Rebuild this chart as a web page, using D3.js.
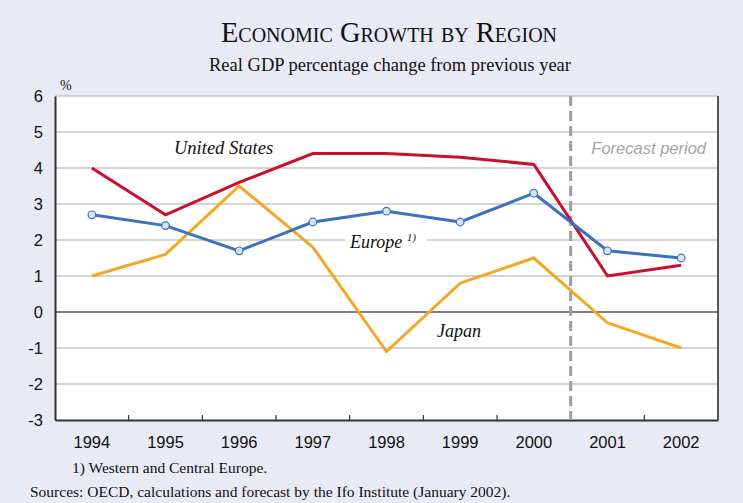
<!DOCTYPE html>
<html>
<head>
<meta charset="utf-8">
<script src="https://cdn.jsdelivr.net/npm/d3@7"></script>
<style>
  html, body { margin: 0; padding: 0; background: #e8eaf5; }
  svg { display: block; }
</style>
</head>
<body>
<div id="chart"></div>
<script>
// Données
const annees   = ["1994","1995","1996","1997","1998","1999","2000","2001","2002"];
const etatsUnis = [4.0, 2.7, 3.6, 4.4, 4.4, 4.3, 4.1, 1.0, 1.3];
const europe    = [2.7, 2.4, 1.7, 2.5, 2.8, 2.5, 3.3, 1.7, 1.5];
const japon     = [1.0, 1.6, 3.5, 1.8, -1.1, 0.8, 1.5, -0.3, -1.0];
const ticksY    = [-3, -2, -1, 0, 1, 2, 3, 4, 5, 6];
const debutPrevision = "2001";

const largeur = 743, hauteur = 503;
const marge = { haut: 96, droite: 25, bas: 83, gauche: 55 };
const serif = "'Liberation Serif', 'Times New Roman', serif";
const sans  = "'Liberation Sans', Arial, sans-serif";

const svg = d3.select("#chart").append("svg")
    .attr("width", largeur).attr("height", hauteur);

svg.append("rect").attr("width", largeur).attr("height", hauteur).attr("fill", "#e8eaf5");

// Échelles
const x = d3.scaleBand().domain(annees)
    .range([marge.gauche, largeur - marge.droite]);
const y = d3.scaleLinear().domain([-3, 6])
    .range([hauteur - marge.bas, marge.haut]);
const cx = d => x(d) + x.bandwidth() / 2;

// Titres
svg.append("text").attr("x", 389).attr("y", 42).attr("text-anchor", "middle")
    .attr("font-family", serif)
    .attr("font-size", 28.5).attr("fill", "#111")
    .style("font-variant", "small-caps")
    .text("Economic Growth by Region");
svg.append("text").attr("x", 390).attr("y", 71).attr("text-anchor", "middle")
    .attr("font-family", serif)
    .attr("font-size", 18.5).attr("fill", "#111")
    .text("Real GDP percentage change from previous year");

// Zone de tracé
svg.append("rect")
    .attr("x", marge.gauche).attr("y", marge.haut)
    .attr("width", largeur - marge.droite - marge.gauche)
    .attr("height", hauteur - marge.bas - marge.haut)
    .attr("fill", "#fff");

// Grille
svg.append("g").selectAll("line").data(ticksY.filter(t => t !== 0 && t !== -3)).join("line")
    .attr("x1", marge.gauche).attr("x2", largeur - marge.droite)
    .attr("y1", d => y(d)).attr("y2", d => y(d))
    .attr("stroke", "#c6c6c6").attr("stroke-width", 1.5);
svg.append("line")
    .attr("x1", marge.gauche).attr("x2", largeur - marge.droite)
    .attr("y1", y(0)).attr("y2", y(0))
    .attr("stroke", "#000").attr("stroke-width", 1.2);

// Axe Y
const axeY = svg.append("g").attr("transform", `translate(${marge.gauche},0)`)
    .call(d3.axisLeft(y).tickValues(ticksY).tickFormat(d => String(d))
        .tickSize(0).tickPadding(12));
axeY.select(".domain").attr("stroke", "#333").attr("stroke-width", 2);
axeY.selectAll("text").attr("font-family", sans)
    .attr("font-size", 16.5).attr("fill", "#111");

svg.append("text").attr("x", 60).attr("y", 90)
    .attr("font-family", serif)
    .attr("font-size", 14).attr("fill", "#111").text("%");

// Axe X
const axeX = svg.append("g").attr("transform", `translate(0,${y(-3)})`)
    .call(d3.axisBottom(x).tickSize(0).tickPadding(16));
axeX.select(".domain").attr("stroke", "#333").attr("stroke-width", 2);
axeX.selectAll("text").attr("font-family", sans)
    .attr("font-size", 16.5).attr("fill", "#111");
// petites graduations entre les années
svg.append("g").selectAll("line").data(annees.slice(1)).join("line")
    .attr("x1", d => x(d)).attr("x2", d => x(d))
    .attr("y1", y(-3)).attr("y2", y(-3) - 5)
    .attr("stroke", "#333").attr("stroke-width", 1.2);

// Bord droit
svg.append("line")
    .attr("x1", largeur - marge.droite).attr("x2", largeur - marge.droite)
    .attr("y1", marge.haut).attr("y2", y(-3))
    .attr("stroke", "#555").attr("stroke-width", 2);

// Période de prévision
svg.append("line")
    .attr("x1", x(debutPrevision)).attr("x2", x(debutPrevision))
    .attr("y1", marge.haut).attr("y2", y(-3))
    .attr("stroke", "#9e9e9e").attr("stroke-width", 3)
    .attr("stroke-dasharray", "10,5");
svg.append("text").attr("x", 706).attr("y", 154).attr("text-anchor", "end")
    .attr("font-family", sans)
    .attr("font-style", "italic").attr("font-size", 16.5).attr("fill", "#a5a5a5")
    .text("Forecast period");

// Séries
const ligne = d3.line().x((d, i) => cx(annees[i])).y(d => y(d));
const series = [
    { nom: "japon", valeurs: japon, couleur: "#f5a623" },
    { nom: "etatsUnis", valeurs: etatsUnis, couleur: "#c8102e" },
    { nom: "europe", valeurs: europe, couleur: "#3a72bd" }
];
series.forEach(s => {
    svg.append("path").datum(s.valeurs)
        .attr("fill", "none").attr("stroke", s.couleur)
        .attr("stroke-width", 3).attr("stroke-linejoin", "miter")
        .attr("d", ligne);
});
svg.append("g").selectAll("circle").data(europe).join("circle")
    .attr("cx", (d, i) => cx(annees[i])).attr("cy", d => y(d))
    .attr("r", 3.8).attr("fill", "#d5e3f3")
    .attr("stroke", "#3a72bd").attr("stroke-width", 1.2);

// Étiquettes
svg.append("text").attr("x", 174).attr("y", 154)
    .attr("font-family", serif).attr("font-style", "italic")
    .attr("font-size", 18.5).attr("fill", "#111").text("United States");

svg.append("rect").attr("x", 345).attr("y", 230).attr("width", 82).attr("height", 24)
    .attr("fill", "#fff");
const labEu = svg.append("text").attr("x", 350).attr("y", 248)
    .attr("font-family", serif).attr("font-style", "italic")
    .attr("font-size", 18).attr("fill", "#111");
labEu.append("tspan").text("Europe ");
labEu.append("tspan").attr("dy", -7).attr("font-size", 11).text("1)");

svg.append("text").attr("x", 437).attr("y", 337)
    .attr("font-family", serif).attr("font-style", "italic")
    .attr("font-size", 18).attr("fill", "#111").text("Japan");

// Notes
svg.append("text").attr("x", 72).attr("y", 473)
    .attr("font-family", serif).attr("font-size", 15.5).attr("fill", "#111")
    .text("1) Western and Central Europe.");
svg.append("text").attr("x", 30).attr("y", 497)
    .attr("font-family", serif).attr("font-size", 15.5).attr("fill", "#111")
    .text("Sources: OECD, calculations and forecast by the Ifo Institute (January 2002).");
</script>
</body>
</html>
